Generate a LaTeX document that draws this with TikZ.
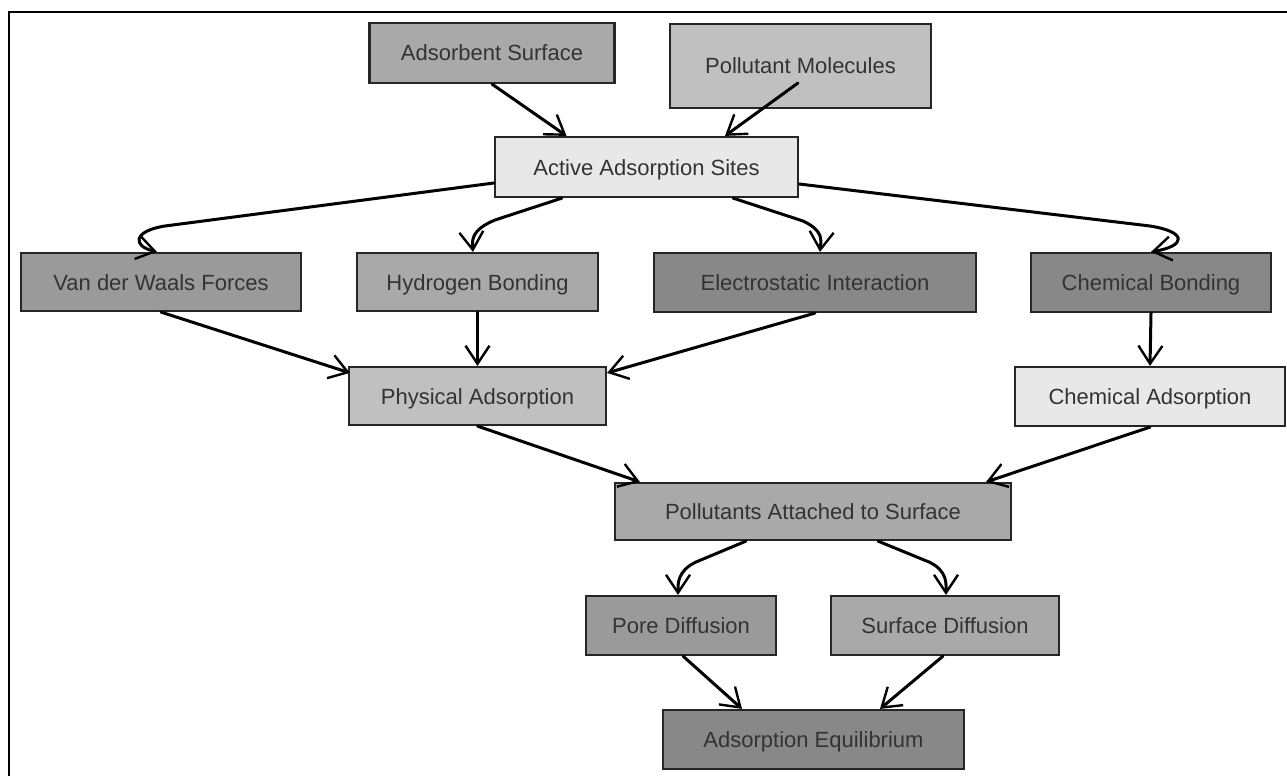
\documentclass[tikz,border=0pt]{standalone}
\usepackage{fontspec}
\setmainfont{Liberation Sans}
\usetikzlibrary{arrows.meta}
\definecolor{gA}{HTML}{A9A9A9}
\definecolor{gB}{HTML}{C0C0C0}
\definecolor{gC}{HTML}{E8E8E8}
\definecolor{gD}{HTML}{9A9A9A}
\definecolor{gE}{HTML}{888888}
\definecolor{txt}{HTML}{333333}
\tikzset{
  box/.style={draw=black!85, line width=2.2pt, inner sep=0pt, text=txt,
    text height=16pt, text depth=0pt,
    font=\fontsize{22}{26}\selectfont},
  conn/.style={draw=black, line width=3pt, line cap=round, line join=round,
    -{Straight Barb[length=18pt,width=24pt,line width=2.4pt]}},
}
\begin{document}
\begin{tikzpicture}[x=1pt,y=-1pt]
\useasboundingbox (0,0) rectangle (1287,776);
\fill[white] (0,0) rectangle (1287,776);
\draw[line width=2.6pt] (1287,12) -- (9,12) -- (9,776);

\node[box, fill=gA, minimum width=245pt, minimum height=60pt] (ads) at (492,53) {Adsorbent Surface};
\node[box, fill=gB, minimum width=261pt, minimum height=84pt] (pol) at (800.5,66) {Pollutant Molecules};
\node[box, fill=gC, minimum width=303pt, minimum height=60pt] (act) at (646.5,167) {Active Adsorption Sites};
\node[box, fill=gD, minimum width=280pt, minimum height=58pt] (vdw) at (161,282) {Van der Waals Forces};
\node[box, fill=gA, minimum width=241pt, minimum height=58pt] (hyd) at (477.5,282) {Hydrogen Bonding};
\node[box, fill=gE, minimum width=322pt, minimum height=59pt] (ele) at (815,282.5) {Electrostatic Interaction};
\node[box, fill=gE, minimum width=240pt, minimum height=59pt] (chb) at (1151,282.5) {Chemical Bonding};
\node[box, fill=gB, minimum width=257pt, minimum height=58pt] (phy) at (477.5,396) {Physical Adsorption};
\node[box, fill=gC, minimum width=270pt, minimum height=59pt] (cha) at (1150,396.5) {Chemical Adsorption};
\node[box, fill=gA, minimum width=396pt, minimum height=57pt] (pat) at (813,511.5) {Pollutants Attached to Surface};
\node[box, fill=gD, minimum width=190pt, minimum height=59pt] (por) at (681,625.5) {Pore Diffusion};
\node[box, fill=gA, minimum width=228pt, minimum height=59pt] (sur) at (945,625.5) {Surface Diffusion};
\node[box, fill=gE, minimum width=301pt, minimum height=59pt] (equ) at (813.5,739.5) {Adsorption Equilibrium};

\draw[conn] (ads.south) -- ([xshift=-80pt]act.north);
\draw[conn] ([xshift=-2.5pt,yshift=-17pt]pol.center) -- ([xshift=78.5pt]act.north);

\draw[conn] ([yshift=-16pt]act.west) -- (165,226) .. controls (133,231) and (132,246) .. ([xshift=-4pt]vdw.north);
\draw[conn] ([xshift=-84.5pt]act.south) -- (495,220) .. controls (471,230) and (472,240) .. ([xshift=-4.5pt]hyd.north);
\draw[conn] ([xshift=86.5pt]act.south) -- (803,221) .. controls (824,231) and (821,240) .. ([xshift=5pt]ele.north);
\draw[conn] ([yshift=-17pt]act.east) -- (1150,226) .. controls (1188,232) and (1186,246) .. (chb.north);

\draw[conn] (vdw.south) -- ([xshift=2pt,yshift=-7pt]phy.north west);
\draw[conn] (hyd.south) -- (phy.north);
\draw[conn] (ele.south) -- ([yshift=-7pt]phy.north east);
\draw[conn] (chb.south) -- (cha.north);

\draw[conn] (phy.south) -- ([xshift=26pt]pat.north west);
\draw[conn] (cha.south) -- ([xshift=-26pt]pat.north east);

\draw[conn] ([xshift=-67pt]pat.south) -- (696,562) .. controls (677,571) and (678,584) .. ([xshift=-3pt]por.north);
\draw[conn] ([xshift=65pt]pat.south) -- (929,562) .. controls (948,571) and (946,584) .. ([xshift=1pt]sur.north);

\draw[conn] ([xshift=2pt]por.south) -- ([xshift=-71.5pt]equ.north);
\draw[conn] ([xshift=-2pt]sur.south) -- ([xshift=66.5pt]equ.north);
\end{tikzpicture}
\end{document}
